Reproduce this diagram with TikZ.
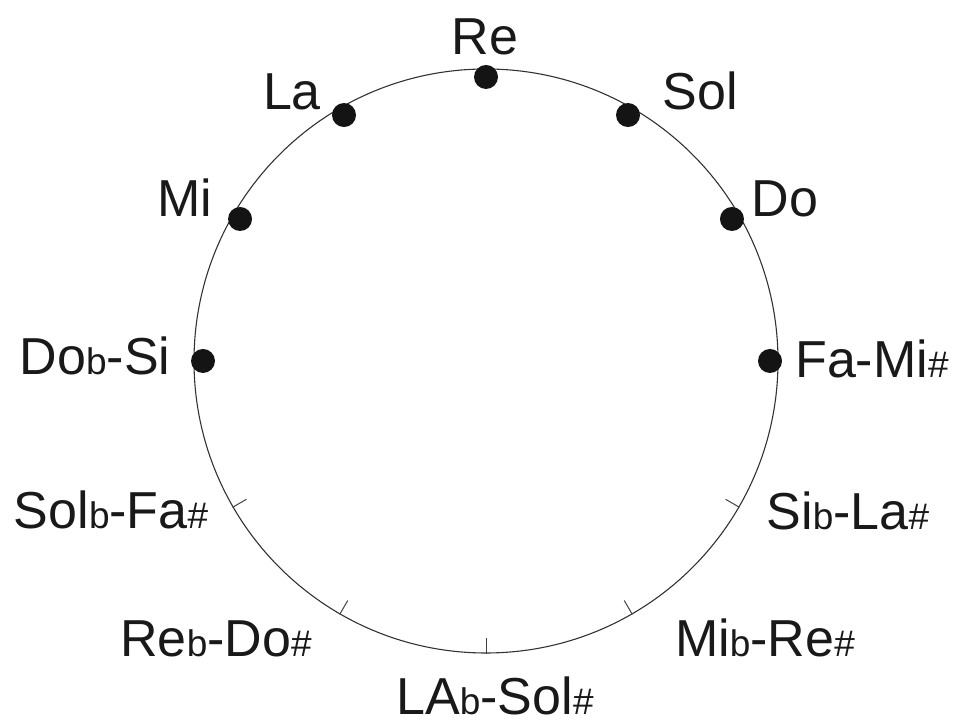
\documentclass[tikz,border=0pt]{standalone}
\usepackage{fontspec}
\setmainfont{Liberation Sans}
\usetikzlibrary{calc}
\newcommand\flt{{\fontsize{37}{40}\selectfont b}}
\newcommand\shp{{\fontsize{37}{40}\selectfont\#}}
\begin{document}
\begin{tikzpicture}[x=1pt,y=1pt,
  wheelstyle/.style={draw=black!80,circle,line width=1.1pt,minimum size=584pt,inner sep=0pt},
  dot/.style={circle,fill=black!92,minimum size=24pt,inner sep=0pt},
  lbl/.style={font=\fontsize{52}{60}\selectfont,text=black!90,inner sep=0pt,anchor=base},
  tickline/.style={draw=black!75,line width=1pt}]
\useasboundingbox (0,0) rectangle (959,725);
\node[wheelstyle] (wheel) at (486,364) {};
% dots
\node[dot] (dre)  at ($(wheel.center)+(90:284)$) {};
\node[dot] (dsol) at ($(wheel.center)+(60:284)$) {};
\node[dot] (ddo)  at ($(wheel.center)+(30:284)$) {};
\node[dot] (dfa)  at ($(wheel.center)+(0:284)$) {};
\node[dot] (dla)  at ($(wheel.center)+(120:284)$) {};
\node[dot] (dmi)  at ($(wheel.center)+(150:284)$) {};
\node[dot] (dsi)  at ($(wheel.center)+(180:283)$) {};
% ticks
\foreach \a in {210,240,270,300,330}{
  \draw[tickline] (wheel.\a) -- ($(wheel.\a)!16pt!(wheel.center)$);
}
% labels
\node[lbl] (lre)  at (485,670) {Re};
\node[lbl] (lsol) at (700,615) {Sol};
\node[lbl] (lla)  at (292,615) {La};
\node[lbl] (ldo)  at (785,508) {Do};
\node[lbl] (lmi)  at (185,508) {Mi};
\node[lbl] (lsi)  at (95,350) {Do\flt-Si};
\node[lbl] (lfa)  at (872,347) {Fa-Mi\shp};
\node[lbl] (lsolb) at (111,196) {Sol\flt-Fa\shp};
\node[lbl] (lsib) at (848,195) {Si\flt-La\shp};
\node[lbl] (lreb) at (216,68) {Re\flt-Do\shp};
\node[lbl] (lmib) at (765,68) {Mi\flt-Re\shp};
\node[lbl] (llab) at (495,10) {LA\flt-Sol\shp};
\end{tikzpicture}
\end{document}
